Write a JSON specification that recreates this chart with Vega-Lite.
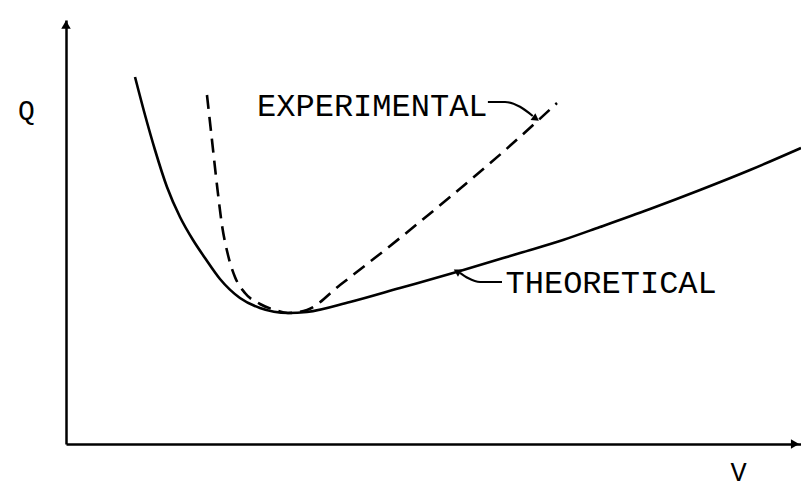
{
  "$schema": "https://vega.github.io/schema/vega-lite/v6.json",
  "width": 735,
  "height": 424,
  "autosize": {"type": "none"},
  "padding": {"left": 66, "top": 20, "right": 0, "bottom": 48},
  "background": "white",
  "config": {"view": {"stroke": null}, "font": "Liberation Mono"},
  "datasets": {
    "theo": [
      {"i": 0, "V": 0.939, "Q": 9.175},
      {"i": 1, "V": 1.075, "Q": 8.225},
      {"i": 2, "V": 1.211, "Q": 7.35},
      {"i": 3, "V": 1.374, "Q": 6.425},
      {"i": 4, "V": 1.551, "Q": 5.675},
      {"i": 5, "V": 1.728, "Q": 5.1},
      {"i": 6, "V": 1.891, "Q": 4.65},
      {"i": 7, "V": 2.095, "Q": 4.125},
      {"i": 8, "V": 2.367, "Q": 3.65},
      {"i": 9, "V": 2.639, "Q": 3.4},
      {"i": 10, "V": 3.02, "Q": 3.275},
      {"i": 11, "V": 3.279, "Q": 3.3},
      {"i": 12, "V": 3.864, "Q": 3.55},
      {"i": 13, "V": 4.544, "Q": 3.9},
      {"i": 14, "V": 5.361, "Q": 4.325},
      {"i": 15, "V": 6.177, "Q": 4.775},
      {"i": 16, "V": 6.762, "Q": 5.1},
      {"i": 17, "V": 7.265, "Q": 5.425},
      {"i": 18, "V": 7.946, "Q": 5.875},
      {"i": 19, "V": 8.626, "Q": 6.35},
      {"i": 20, "V": 9.306, "Q": 6.85},
      {"i": 21, "V": 10.0, "Q": 7.4}
    ],
    "expt": [
      {"i": 0, "V": 1.918, "Q": 8.725},
      {"i": 1, "V": 1.986, "Q": 7.6},
      {"i": 2, "V": 2.054, "Q": 6.475},
      {"i": 3, "V": 2.122, "Q": 5.475},
      {"i": 4, "V": 2.204, "Q": 4.725},
      {"i": 5, "V": 2.299, "Q": 4.175},
      {"i": 6, "V": 2.435, "Q": 3.775},
      {"i": 7, "V": 2.639, "Q": 3.5},
      {"i": 8, "V": 2.844, "Q": 3.35},
      {"i": 9, "V": 3.02, "Q": 3.275},
      {"i": 10, "V": 3.279, "Q": 3.35},
      {"i": 11, "V": 3.728, "Q": 3.975},
      {"i": 12, "V": 4.544, "Q": 5.15},
      {"i": 13, "V": 5.224, "Q": 6.175},
      {"i": 14, "V": 5.946, "Q": 7.3},
      {"i": 15, "V": 6.68, "Q": 8.525}
    ],
    "leaders": [
      {"id": "e", "i": 0, "V": 5.74, "Q": 8.55},
      {"id": "e", "i": 1, "V": 5.973, "Q": 8.55},
      {"id": "e", "i": 2, "V": 6.177, "Q": 8.43},
      {"id": "e", "i": 3, "V": 6.35, "Q": 8.2},
      {"id": "t", "i": 0, "V": 5.932, "Q": 4.05},
      {"id": "t", "i": 1, "V": 5.633, "Q": 4.05},
      {"id": "t", "i": 2, "V": 5.469, "Q": 4.15},
      {"id": "t", "i": 3, "V": 5.36, "Q": 4.28}
    ],
    "heads": [
      {"id": "e", "V": 6.38, "Q": 8.15},
      {"id": "t", "V": 5.333, "Q": 4.3},
      {"id": "y", "V": 0.0, "Q": 10.45},
      {"id": "x", "V": 9.9, "Q": 0.0}
    ],
    "labels": [
      {"label": "EXPERIMENTAL", "V": 2.6, "Q": 8.2},
      {"label": "THEORETICAL", "V": 5.98, "Q": 3.78}
    ]
  },
  "layer": [
    {
      "data": {"name": "theo"},
      "mark": {"type": "line", "color": "black", "strokeWidth": 2.6, "interpolate": "monotone", "clip": false},
      "encoding": {
        "x": {"field": "V", "type": "quantitative", "scale": {"domain": [0, 10], "nice": false, "zero": false},
          "axis": {"title": "V", "domain": true, "domainWidth": 2.5, "domainColor": "black", "ticks": false, "labels": false, "grid": false,
            "titleFont": "Liberation Mono", "titleFontSize": 27, "titleFontWeight": "normal", "titleColor": "black",
            "titleX": 672, "titleY": 36, "titleAlign": "center", "titleBaseline": "alphabetic"}},
        "y": {"field": "Q", "type": "quantitative", "scale": {"domain": [0, 10.6], "nice": false, "zero": false},
          "axis": {"title": "Q", "domain": true, "domainWidth": 2.5, "domainColor": "black", "ticks": false, "labels": false, "grid": false,
            "titleFont": "Liberation Mono", "titleFontSize": 28, "titleFontWeight": "normal", "titleColor": "black", "titleAngle": 0,
            "titleX": -40, "titleY": 98, "titleAlign": "center", "titleBaseline": "alphabetic"}},
        "order": {"field": "i", "type": "quantitative"}
      }
    },
    {
      "data": {"name": "expt"},
      "mark": {"type": "line", "color": "black", "strokeWidth": 2.6, "strokeDash": [14, 8], "interpolate": "monotone"},
      "encoding": {
        "x": {"field": "V", "type": "quantitative"},
        "y": {"field": "Q", "type": "quantitative"},
        "order": {"field": "i", "type": "quantitative"}
      }
    },
    {
      "data": {"name": "leaders"},
      "mark": {"type": "line", "color": "black", "strokeWidth": 2.2, "interpolate": "monotone"},
      "encoding": {
        "x": {"field": "V", "type": "quantitative"},
        "y": {"field": "Q", "type": "quantitative"},
        "detail": {"field": "id"},
        "order": {"field": "i", "type": "quantitative"}
      }
    },
    {
      "data": {"name": "heads"},
      "transform": [{"filter": "datum.id === 'e'"}],
      "mark": {"type": "point", "shape": "triangle", "filled": true, "color": "black", "opacity": 1, "size": 70, "angle": 125},
      "encoding": {"x": {"field": "V", "type": "quantitative"}, "y": {"field": "Q", "type": "quantitative"}}
    },
    {
      "data": {"name": "heads"},
      "transform": [{"filter": "datum.id === 't'"}],
      "mark": {"type": "point", "shape": "triangle", "filled": true, "color": "black", "opacity": 1, "size": 70, "angle": 300},
      "encoding": {"x": {"field": "V", "type": "quantitative"}, "y": {"field": "Q", "type": "quantitative"}}
    },
    {
      "data": {"name": "heads"},
      "transform": [{"filter": "datum.id === 'y'"}],
      "mark": {"type": "point", "shape": "triangle", "filled": true, "color": "black", "opacity": 1, "size": 90, "angle": 0, "clip": false},
      "encoding": {"x": {"field": "V", "type": "quantitative"}, "y": {"field": "Q", "type": "quantitative"}}
    },
    {
      "data": {"name": "heads"},
      "transform": [{"filter": "datum.id === 'x'"}],
      "mark": {"type": "point", "shape": "triangle", "filled": true, "color": "black", "opacity": 1, "size": 90, "angle": 90, "clip": false},
      "encoding": {"x": {"field": "V", "type": "quantitative"}, "y": {"field": "Q", "type": "quantitative"}}
    },
    {
      "data": {"name": "labels"},
      "mark": {"type": "text", "font": "Liberation Mono", "fontSize": 32, "color": "black", "align": "left", "baseline": "alphabetic"},
      "encoding": {
        "x": {"field": "V", "type": "quantitative"},
        "y": {"field": "Q", "type": "quantitative"},
        "text": {"field": "label"}
      }
    }
  ]
}
